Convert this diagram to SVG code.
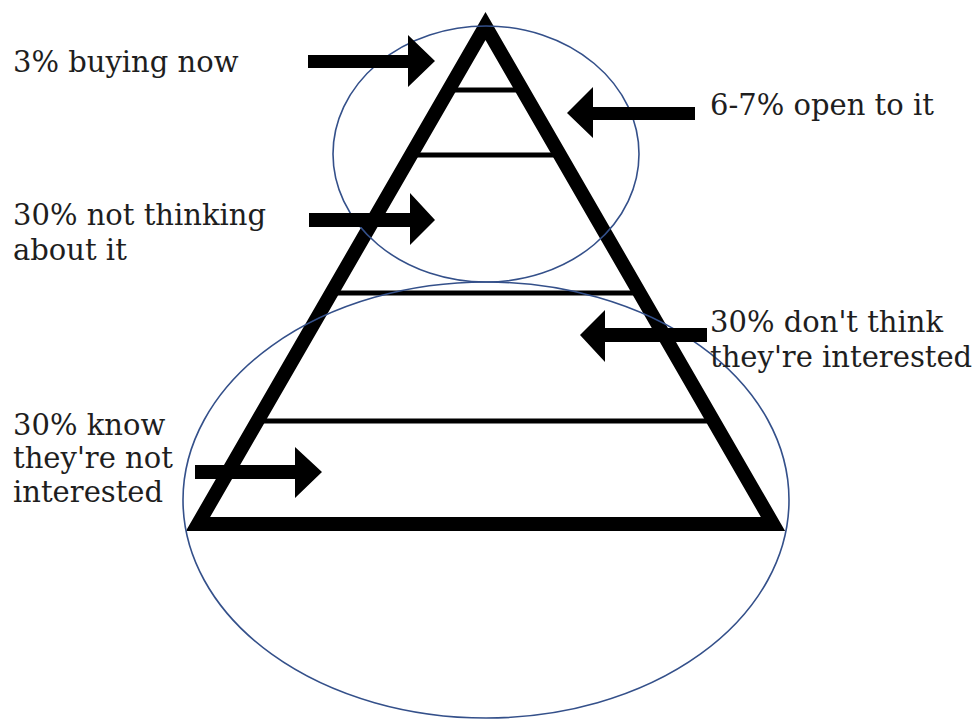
<svg xmlns="http://www.w3.org/2000/svg" width="974" height="723" viewBox="0 0 974 723">
<style>
.lbl{font-family:"DejaVu Serif","Liberation Serif",serif;font-size:29px;fill:#1e1e1e}
.tri{fill:none;stroke:#000;stroke-width:14;stroke-linejoin:miter;stroke-miterlimit:4}
.tier{stroke:#000;stroke-width:5}
.ell{fill:none;stroke:#34508a;stroke-width:1.6}
.arr{fill:#000}
</style>
<rect width="974" height="723" fill="#fff"/>
<g id="pyramid">
<line class="tier" x1="448" y1="90" x2="523" y2="90"/>
<line class="tier" x1="411" y1="155" x2="560" y2="155"/>
<line class="tier" x1="331" y1="293" x2="640" y2="293"/>
<line class="tier" x1="257" y1="421" x2="714" y2="421"/>
<polygon class="tri" points="485.5,26 773,524 198,524"/>
</g>
<g id="ellipses">
<ellipse class="ell" cx="486" cy="154" rx="153" ry="128"/>
<ellipse class="ell" cx="486" cy="500" rx="303" ry="218"/>
</g>
<g id="connectors">
<polygon class="arr" points="308,55 408,55 408,35 435,61 408,87 408,68 308,68"/>
<polygon class="arr" points="695,107 593,107 593,87 567,113 593,138 593,120 695,120"/>
<polygon class="arr" points="309,213 410,213 410,193 435,220 410,245 410,227 309,227"/>
<polygon class="arr" points="707,328 605,328 605,310 580,335 605,362 605,342 707,342"/>
<polygon class="arr" points="195,465 295,465 295,447 322,472 295,498 295,479 195,479"/>
</g>
<g id="label-buying">
<text class="lbl" x="13" y="72">3% buying now</text>
</g>
<g id="label-open">
<text class="lbl" x="710" y="115">6-7% open to it</text>
</g>
<g id="label-notthinking">
<text class="lbl" x="13" y="225">30% not thinking</text>
<text class="lbl" x="13" y="260">about it</text>
</g>
<g id="label-dontthink">
<text class="lbl" x="710" y="332">30% don't think</text>
<text class="lbl" x="710" y="367">they're interested</text>
</g>
<g id="label-know">
<text class="lbl" x="13" y="435">30% know</text>
<text class="lbl" x="13" y="468">they're not</text>
<text class="lbl" x="13" y="502">interested</text>
</g>
</svg>
